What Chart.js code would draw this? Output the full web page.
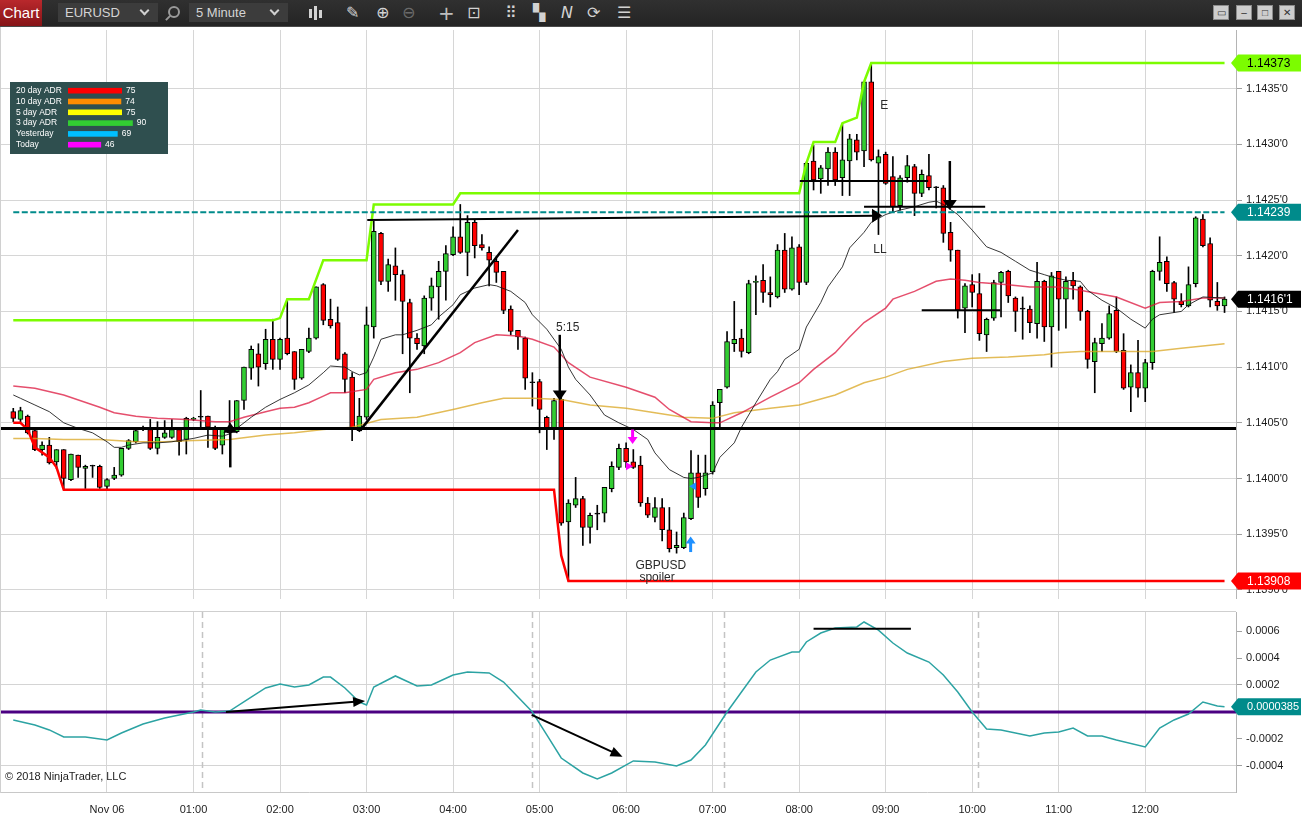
<!DOCTYPE html>
<html>
<head>
<meta charset="utf-8">
<title>EURUSD 5 Minute</title>
<script src="https://cdn.jsdelivr.net/npm/chart.js@4.4.0/dist/chart.umd.min.js"></script>
<style>
  html, body { margin: 0; padding: 0; background: #fff; }
  body { width: 1302px; height: 820px; overflow: hidden; position: relative; font-family: "Liberation Sans", Arial, sans-serif; }
  #toolbar { position: absolute; left: 0; top: 0; width: 1302px; height: 26px; background: linear-gradient(#303030, #242424); border-bottom: 1px solid #4a4a4a; }
  #chartBtn { position: absolute; left: 0; top: 0; width: 42px; height: 26px; background: linear-gradient(#b9282c, #861417); color: #fff; font-size: 15px; line-height: 25px; text-align: center; }
  .field { position: absolute; top: 3px; height: 19px; background: #3c3c3c; color: #d4d4d4; font-size: 13px; line-height: 19px; padding-left: 7px; box-sizing: border-box; }
  .chev { position: absolute; right: 10px; top: 4px; width: 5px; height: 5px; border-right: 2px solid #d0d0d0; border-bottom: 2px solid #d0d0d0; transform: rotate(45deg); }
  .ico { position: absolute; top: 1px; height: 24px; line-height: 24px; color: #d2d2d2; font-family: "DejaVu Sans", sans-serif; font-size: 16px; }
  .mag { position: absolute; top: 6px; width: 8px; height: 8px; border: 2px solid #9a9a9a; border-radius: 50%; }
  .mag::after { content: ""; position: absolute; left: -5px; top: 9px; width: 6px; height: 2px; background: #9a9a9a; transform: rotate(-45deg); }
  .candles { position: absolute; top: 6px; width: 14px; height: 14px; }
  .candles b { position: absolute; width: 3px; background: #d2d2d2; }
  .win { position: absolute; top: 5px; width: 16px; height: 15px; background: #cdcdcd; border: 1px solid #8c8c8c; box-sizing: border-box; color: #333; font-size: 10px; line-height: 13px; text-align: center; }
  #sep { position: absolute; left: 0; top: 611px; width: 1236px; height: 1px; background: #cfcfcf; }
  #leftEdge { position: absolute; left: 0; top: 27px; width: 1px; height: 766px; background: #d0d0d0; z-index: 2; }
  #copyright { position: absolute; left: 5px; top: 770px; font-size: 11px; color: #222; z-index: 2; }
  canvas { position: absolute; left: 0; }
</style>
</head>
<body>
<div id="toolbar">
  <div id="chartBtn">Chart</div>
  <div class="field" style="left:58px;width:100px">EURUSD<i class="chev"></i></div>
  <div class="mag" style="left:168px"></div>
  <div class="field" style="left:189px;width:99px">5 Minute<i class="chev"></i></div>
  <div class="candles" style="left:309px"><b style="left:0;top:3px;height:9px"></b><b style="left:5px;top:0;height:14px"></b><b style="left:10px;top:4px;height:8px"></b></div>
  <div class="ico" style="left:346px">✎</div>
  <div class="ico" style="left:376px">⊕</div>
  <div class="ico" style="left:402px;color:#6a6a6a">⊖</div>
  <div class="ico" style="left:438px;font-size:20px;color:#bdbdbd">+</div>
  <div class="ico" style="left:467px">⊡</div>
  <div class="ico" style="left:505px">⠿</div>
  <div class="ico" style="left:533px">▚</div>
  <div class="ico" style="left:561px;font-style:italic">N</div>
  <div class="ico" style="left:587px">⟳</div>
  <div class="ico" style="left:617px">☰</div>
  <div class="win" style="left:1213px">▭</div>
  <div class="win" style="left:1236px">–</div>
  <div class="win" style="left:1257px">□</div>
  <div class="win" style="left:1279px">✕</div>
</div>

<canvas id="priceChart" width="1302" height="569" style="top:30px;width:1302px;height:569px"></canvas>
<div id="sep"></div>
<div id="leftEdge"></div>
<canvas id="oscChart" width="1302" height="208" style="top:612px;width:1302px;height:208px"></canvas>
<div id="copyright">© 2018 NinjaTrader, LLC</div>

<script>
// EURUSD 5 minute bars, bar index 0 = 00:00 Nov 06 (first bar is 22:55 the day before)
var firstBar = -13;

var open = [
  1.14060,1.14053,1.14056,1.14043,1.14026,1.14030,1.14015,1.14026,1.13999,1.14021,1.14009,1.14011,1.14011,
  1.13993,1.14000,1.14003,1.14027,1.14033,1.14044,1.14044,1.14027,1.14037,1.14037,1.14044,1.14035,
  1.14053,1.14055,1.14056,1.14046,1.14030,1.14043,1.14042,1.14070,1.14099,1.14112,1.14103,1.14125,
  1.14107,1.14126,1.14114,1.14090,1.14114,1.14126,1.14174,1.14143,1.14140,1.14112,1.14091,1.14043,
  1.14055,1.14136,1.14220,1.14177,1.14191,1.14183,1.14158,1.14126,1.14119,1.14162,1.14172,1.14186,
  1.14201,1.14217,1.14203,1.14230,1.14210,1.14203,1.14195,1.14186,1.14152,1.14133,1.14126,1.14086,
  1.14087,1.14055,1.14045,1.14071,1.13961,1.13976,1.13982,1.13956,1.13968,1.13969,1.13991,1.14010,
  1.14027,1.14015,1.14012,1.13978,1.13965,1.13974,1.13954,1.13938,1.13938,1.13964,1.14005,1.13991,
  1.14006,1.14068,1.14082,1.14121,1.14126,1.14113,1.14176,1.14178,1.14167,1.14163,1.14205,1.14170,
  1.14208,1.14176,1.14285,1.14269,1.14278,1.14293,1.14270,1.14285,1.14304,1.14294,1.14356,1.14283,
  1.14291,1.14271,1.14245,1.14270,1.14280,1.14256,1.14272,1.14261,1.14261,1.14221,1.14205,1.14153,
  1.14174,1.14166,1.14129,1.14144,1.14176,1.14186,1.14162,1.14152,1.14152,1.14139,1.14177,1.14136,
  1.14186,1.14161,1.14178,1.14172,1.14150,1.14105,1.14121,1.14126,1.14151,1.14115,1.14082,1.14095,
  1.14081,1.14104,1.14186,1.14195,1.14176,1.14159,1.14155,1.14175,1.14233,1.14211,1.14159,1.14155
];
var high = [
  1.14063,1.14064,1.14057,1.14045,1.14033,1.14037,1.14026,1.14026,1.14022,1.14021,1.14012,1.14012,1.14012,
  1.14000,1.14010,1.14027,1.14035,1.14044,1.14047,1.14053,1.14051,1.14052,1.14053,1.14045,1.14055,
  1.14055,1.14079,1.14056,1.14047,1.14045,1.14070,1.14070,1.14100,1.14119,1.14121,1.14134,1.14143,
  1.14126,1.14161,1.14114,1.14116,1.14135,1.14172,1.14175,1.14161,1.14154,1.14113,1.14095,1.14072,
  1.14154,1.14231,1.14221,1.14197,1.14207,1.14187,1.14161,1.14130,1.14164,1.14180,1.14195,1.14209,
  1.14226,1.14246,1.14236,1.14232,1.14219,1.14208,1.14199,1.14186,1.14155,1.14133,1.14127,1.14095,
  1.14089,1.14056,1.14072,1.14074,1.13981,1.14001,1.13984,1.13969,1.13976,1.13992,1.14015,1.14031,
  1.14032,1.14026,1.14020,1.13983,1.13983,1.13982,1.13974,1.13952,1.13969,1.14025,1.14021,1.14021,
  1.14069,1.14080,1.14132,1.14159,1.14134,1.14178,1.14182,1.14192,1.14181,1.14210,1.14220,1.14217,
  1.14210,1.14284,1.14299,1.14281,1.14297,1.14297,1.14318,1.14309,1.14309,1.14356,1.14373,1.14295,
  1.14293,1.14289,1.14272,1.14290,1.14282,1.14277,1.14291,1.14262,1.14263,1.14230,1.14205,1.14175,
  1.14183,1.14184,1.14144,1.14178,1.14186,1.14187,1.14163,1.14163,1.14155,1.14194,1.14178,1.14185,
  1.14186,1.14181,1.14185,1.14173,1.14151,1.14126,1.14139,1.14155,1.14163,1.14130,1.14102,1.14124,
  1.14107,1.14187,1.14217,1.14199,1.14177,1.14166,1.14190,1.14235,1.14237,1.14216,1.14176,1.14163
];
var low = [
  1.14051,1.14051,1.14040,1.14025,1.14021,1.14013,1.14009,1.13990,1.13998,1.14001,1.13991,1.14001,1.13991,
  1.13991,1.13999,1.14002,1.14026,1.14032,1.14043,1.14026,1.14022,1.14036,1.14036,1.14021,1.14022,
  1.14052,1.14046,1.14028,1.14026,1.14022,1.14040,1.14041,1.14062,1.14089,1.14083,1.14098,1.14098,
  1.14098,1.14111,1.14080,1.14089,1.14113,1.14125,1.14138,1.14135,1.14106,1.14077,1.14034,1.14042,
  1.14053,1.14126,1.14174,1.14168,1.14160,1.14112,1.14077,1.14116,1.14112,1.14151,1.14143,1.14160,
  1.14200,1.14202,1.14182,1.14198,1.14205,1.14173,1.14176,1.14148,1.14129,1.14116,1.14080,1.14065,
  1.14041,1.14026,1.14035,1.13958,1.13908,1.13974,1.13940,1.13942,1.13954,1.13961,1.13988,1.14008,
  1.14010,1.14009,1.13975,1.13965,1.13961,1.13944,1.13934,1.13933,1.13937,1.13963,1.13974,1.13985,
  1.14004,1.14046,1.14081,1.14114,1.14109,1.14112,1.14147,1.14158,1.14154,1.14162,1.14167,1.14169,
  1.14165,1.14174,1.14259,1.14256,1.14263,1.14263,1.14254,1.14254,1.14286,1.14280,1.14285,1.14219,
  1.14264,1.14239,1.14241,1.14266,1.14236,1.14253,1.14259,1.14243,1.14212,1.14195,1.14144,1.14131,
  1.14154,1.14124,1.14114,1.14142,1.14145,1.14158,1.14132,1.14125,1.14131,1.14126,1.14123,1.14100,
  1.14133,1.14135,1.14161,1.14142,1.14099,1.14077,1.14114,1.14125,1.14113,1.14080,1.14060,1.14073,
  1.14069,1.14098,1.14178,1.14168,1.14149,1.14154,1.14154,1.14172,1.14208,1.14154,1.14151,1.14149
];
var close = [
  1.14054,1.14061,1.14041,1.14026,1.14030,1.14014,1.14026,1.14000,1.14022,1.14010,1.14011,1.14011,1.13992,
  1.13999,1.14003,1.14027,1.14034,1.14043,1.14045,1.14027,1.14037,1.14041,1.14044,1.14033,1.14054,
  1.14054,1.14055,1.14046,1.14027,1.14045,1.14041,1.14070,1.14100,1.14116,1.14100,1.14125,1.14107,
  1.14125,1.14112,1.14089,1.14116,1.14126,1.14172,1.14142,1.14137,1.14107,1.14089,1.14045,1.14056,
  1.14138,1.14222,1.14177,1.14192,1.14183,1.14159,1.14126,1.14121,1.14162,1.14173,1.14186,1.14202,
  1.14217,1.14203,1.14230,1.14209,1.14207,1.14196,1.14185,1.14151,1.14132,1.14127,1.14090,1.14086,
  1.14062,1.14045,1.14070,1.13960,1.13978,1.13982,1.13956,1.13967,1.13968,1.13992,1.14011,1.14027,
  1.14015,1.14010,1.13978,1.13967,1.13974,1.13954,1.13937,1.13940,1.13965,1.14005,1.13983,1.14005,
  1.14066,1.14080,1.14123,1.14125,1.14114,1.14175,1.14177,1.14167,1.14165,1.14205,1.14170,1.14207,
  1.14176,1.14283,1.14268,1.14279,1.14293,1.14268,1.14286,1.14305,1.14293,1.14356,1.14286,1.14289,
  1.14265,1.14244,1.14270,1.14281,1.14256,1.14273,1.14261,1.14261,1.14220,1.14205,1.14151,1.14173,
  1.14167,1.14130,1.14143,1.14176,1.14185,1.14164,1.14150,1.14152,1.14140,1.14177,1.14136,1.14182,
  1.14161,1.14177,1.14173,1.14150,1.14107,1.14122,1.14126,1.14148,1.14114,1.14081,1.14095,1.14081,
  1.14104,1.14186,1.14194,1.14175,1.14161,1.14156,1.14174,1.14234,1.14209,1.14160,1.14155,1.14161
];

// moving averages: [bar, price]
var fastMa = [[-13,1.14075],[-12,1.14072],[-10,1.14066],[-8,1.14060],[-6,1.14050],[-4,1.14045],[-2,1.14041],[0,1.14033],[1,1.14028],[2,1.14028],[3,1.14030],[5,1.14032],[7,1.14032],[9,1.14033],[12,1.14036],[14,1.14039],[16,1.14038],[17,1.14040],[18,1.14045],[20,1.14055],[22,1.14064],[24,1.14071],[26,1.14077],[28,1.14084],[30,1.14095],[31,1.14101],[33,1.14100],[34,1.14096],[35,1.14093],[36,1.14095],[37,1.14109],[38,1.14125],[40,1.14129],[41,1.14129],[43,1.14133],[45,1.14138],[46,1.14145],[48,1.14156],[49,1.14165],[51,1.14171],[53,1.14174],[54,1.14173],[56,1.14168],[58,1.14158],[59,1.14147],[61,1.14134],[63,1.14116],[64,1.14100],[65,1.14089],[67,1.14075],[68,1.14066],[69,1.14057],[71,1.14050],[73,1.14044],[75,1.14035],[76,1.14023],[78,1.14008],[80,1.14001],[81,1.14000],[82,1.14001],[84,1.14005],[85,1.14019],[87,1.14032],[88,1.14046],[90,1.14068],[92,1.14089],[93,1.14096],[94,1.14107],[96,1.14116],[97,1.14136],[99,1.14158],[100,1.14172],[102,1.14190],[103,1.14207],[105,1.14221],[106,1.14230],[108,1.14237],[110,1.14241],[112,1.14244],[114,1.14248],[115,1.14249],[116,1.14246],[118,1.14237],[120,1.14223],[122,1.14208],[124,1.14203],[126,1.14195],[128,1.14187],[130,1.14183],[131,1.14181],[133,1.14178],[135,1.14177],[136,1.14169],[138,1.14160],[140,1.14153],[142,1.14143],[144,1.14135],[145,1.14143],[146,1.14147],[149,1.14150],[150,1.14156],[152,1.14163],[155,1.14162]];
var midMa = [[-13,1.14083],[-10,1.14081],[-6,1.14075],[-1,1.14064],[1,1.14059],[4,1.14056],[7,1.14054],[11,1.14053],[15,1.14051],[17,1.14051],[19,1.14055],[22,1.14060],[24,1.14063],[26,1.14064],[28,1.14068],[30,1.14074],[31,1.14077],[33,1.14077],[36,1.14080],[37,1.14089],[40,1.14095],[43,1.14098],[46,1.14104],[49,1.14113],[51,1.14122],[54,1.14129],[57,1.14128],[59,1.14125],[62,1.14118],[64,1.14104],[67,1.14091],[72,1.14082],[76,1.14073],[78,1.14062],[81,1.14051],[84,1.14050],[85,1.14050],[88,1.14059],[92,1.14073],[96,1.14086],[98,1.14098],[101,1.14113],[103,1.14127],[105,1.14140],[108,1.14153],[109,1.14161],[112,1.14168],[115,1.14177],[117,1.14179],[119,1.14178],[121,1.14176],[125,1.14174],[128,1.14172],[132,1.14172],[135,1.14169],[140,1.14163],[144,1.14153],[146,1.14158],[149,1.14159],[152,1.14162],[155,1.14162]];
var slowMa = [[-13,1.14036],[-10,1.14036],[-6,1.14035],[-1,1.14035],[4,1.14033],[8,1.14033],[11,1.14034],[17,1.14035],[22,1.14039],[26,1.14041],[30,1.14044],[34,1.14046],[38,1.14053],[43,1.14055],[48,1.14062],[52,1.14068],[55,1.14072],[59,1.14072],[63,1.14071],[67,1.14066],[72,1.14063],[76,1.14059],[80,1.14055],[84,1.14054],[87,1.14059],[92,1.14063],[96,1.14066],[101,1.14075],[105,1.14086],[108,1.14091],[111,1.14098],[116,1.14105],[120,1.14108],[125,1.14109],[130,1.14111],[132,1.14113],[135,1.14114],[140,1.14114],[145,1.14114],[149,1.14117],[155,1.14121]];

// session high / low lines: [bar, price] corners
var sessionHigh = [[-13,1.14142],[23,1.14142],[24,1.14144],[25,1.14161],[28,1.14161],[30,1.14196],[36,1.14196],[37,1.14246],[48,1.14246],[49,1.14256],[96,1.14256],[97,1.14283],[98,1.14302],[101,1.14302],[102,1.14319],[104,1.14324],[105,1.14356],[106,1.14373],[155,1.14373]];
var sessionLow = [[-13,1.14050],[-12,1.14050],[-11,1.14044],[-10,1.14028],[-8,1.14019],[-7,1.14010],[-6,1.13990],[62,1.13990],[63,1.13931],[64,1.13908],[155,1.13908]];
var yesterdayHigh = 1.14239;
var keyLevel = 1.14045;

// lower panel oscillator: [bar, value]
var oscillator = [[-13,-0.000059],[-10,-0.000096],[-8,-0.000133],[-6,-0.000185],[-3,-0.000185],[0,-0.000207],[2,-0.000156],[5,-0.000089],[8,-0.000044],[12,0],[13,0.000015],[15,0],[17,0.000007],[20,0.000111],[22,0.000178],[24,0.000207],[26,0.000185],[28,0.000200],[30,0.000259],[31,0.000259],[33,0.000178],[35,0.000074],[36,0.000052],[37,0.000185],[40,0.000267],[43,0.000193],[45,0.000200],[48,0.000274],[50,0.000296],[53,0.000289],[55,0.000222],[57,0.000111],[59,0],[61,-0.000170],[63,-0.000341],[66,-0.000452],[68,-0.000496],[70,-0.000452],[73,-0.000363],[76,-0.000370],[79,-0.000400],[81,-0.000356],[83,-0.000244],[86,0],[88,0.000148],[90,0.000296],[92,0.000385],[95,0.000444],[96,0.000444],[97,0.000519],[99,0.000585],[101,0.000622],[104,0.000630],[105,0.000667],[107,0.000607],[109,0.000511],[111,0.000437],[114,0.000370],[116,0.000274],[118,0.000148],[120,0],[122,-0.000126],[124,-0.000133],[128,-0.000178],[130,-0.000156],[132,-0.000148],[134,-0.000119],[136,-0.000178],[138,-0.000178],[140,-0.000207],[144,-0.000259],[146,-0.000119],[148,-0.000059],[150,-0.000015],[152,0.000074],[154,0.000044],[155,0.0000385]];
var zeroCrossBars = [13.2, 58.9, 85.6, 120.8];

// axes
var hourTicks = [0,12,24,36,48,60,72,84,96,108,120,132,144];
var hourLabels = ['Nov 06','01:00','02:00','03:00','04:00','05:00','06:00','07:00','08:00','09:00','10:00','11:00','12:00'];
var priceTicks = [1.1390,1.1395,1.1400,1.1405,1.1410,1.1415,1.1420,1.1425,1.1430,1.1435];
var oscTicks = [-0.0004,-0.0002,0,0.0002,0.0004,0.0006];
var oscGridLevels = [0.0002,-0.0004];

// ADR box
var adrNames = ['20 day ADR','10 day ADR','5 day ADR','3 day ADR','Yesterday','Today'];
var adrValues = [75,74,75,90,69,46];
var adrColors = ['#ff0000','#ff8c00','#ffff00','#32cd32','#00bfff','#ff00ff'];

// hand drawn objects: [bar1, price1, bar2, price2, arrow at end, line width]
var priceDrawings = [
  [36.1,1.14232,107.5,1.14236,true,2],
  [35.1,1.14043,57.0,1.14223,false,2.5],
  [96.1,1.14267,113.9,1.14267,false,2],
  [105.0,1.14244,121.8,1.14244,false,2],
  [113.0,1.14151,123.9,1.14151,false,2],
  [17.1,1.14010,17.1,1.14050,true,2.5],
  [62.8,1.14129,62.8,1.14070,true,2.5],
  [116.9,1.14285,116.9,1.14241,true,2.5]
];
var priceNotes = [['E',107.8,1.14335],['LL',107.2,1.14205],['5:15',63.9,1.14135],['GBPUSD',76.8,1.13922],['spoiler',76.3,1.13911]];
var tradeArrows = [[72.9,1.14044,1.14031,'#ff00ff'],[80.95,1.13934,1.13948,'#1e90ff']];
var tradeMarks = [[72.4,1.14011,'#ff00ff',1],[81.3,1.13993,'#1e90ff',-1]];
var oscDrawings = [
  [16.5,0,35.8,0.0000815,true,2],
  [58.9,-0.000022,71.5,-0.000331,true,2],
  [98.0,0.000617,111.5,0.000617,false,2]
];

// view ranges
var xMin = -14.84, xMax = 156.59;
var yMin = 1.1389185, yMax = 1.1440262;
var oMin = -0.000593, oMax = 0.000741;

var FONT = '"Liberation Sans", Arial, sans-serif';
Chart.defaults.font.family = FONT;
Chart.defaults.animation = false;

var bars = open.map(function (v, k) { return firstBar + k; });
var pts = function (a) { return a.map(function (p) { return {x: p[0], y: p[1]}; }); };
var fmtPrice = function (v) { var s = Number(v).toFixed(5); return s.slice(0, 6) + "'" + s.slice(6); };
var last = function (a) { return a[a.length - 1]; };
var isHour = function (v) { return hourTicks.indexOf(v) >= 0; };
var hourGrid = function (c) { return (c.tick && isHour(c.tick.value)) ? '#d6d6d6' : 'rgba(0,0,0,0)'; };

function segment(ctx, x1, y1, x2, y2, w, headLen, headHalf) {
  var a = Math.atan2(y2 - y1, x2 - x1);
  var ex = x2 - (headLen ? headLen * 0.6 * Math.cos(a) : 0);
  var ey = y2 - (headLen ? headLen * 0.6 * Math.sin(a) : 0);
  ctx.lineWidth = w;
  ctx.beginPath(); ctx.moveTo(x1, y1); ctx.lineTo(ex, ey); ctx.stroke();
  if (headLen) {
    ctx.beginPath();
    ctx.moveTo(x2, y2);
    ctx.lineTo(x2 - headLen * Math.cos(a) + headHalf * Math.sin(a), y2 - headLen * Math.sin(a) - headHalf * Math.cos(a));
    ctx.lineTo(x2 - headLen * Math.cos(a) - headHalf * Math.sin(a), y2 - headLen * Math.sin(a) + headHalf * Math.cos(a));
    ctx.closePath(); ctx.fill();
  }
}

function drawFlag(ctx, xTip, y, text, bg, fg, size) {
  var h = 17, x0 = xTip + 7, x1 = 1301;
  ctx.fillStyle = bg;
  ctx.beginPath();
  ctx.moveTo(xTip, y); ctx.lineTo(x0, y - h / 2); ctx.lineTo(x1, y - h / 2);
  ctx.lineTo(x1, y + h / 2); ctx.lineTo(x0, y + h / 2); ctx.closePath(); ctx.fill();
  ctx.fillStyle = fg;
  ctx.font = size + 'px ' + FONT;
  ctx.textAlign = 'left'; ctx.textBaseline = 'middle';
  ctx.fillText(text, xTip + 16, y + 0.5);
}

// drawings, notes and the ADR box on the price panel
var priceOverlay = {
  id: 'priceOverlay',
  afterDatasetsDraw: function (chart) {
    var ctx = chart.ctx, a = chart.chartArea, x = chart.scales.x, y = chart.scales.y;
    ctx.save();
    ctx.beginPath(); ctx.rect(a.left, a.top, a.right - a.left, a.bottom - a.top); ctx.clip();
    ctx.strokeStyle = '#000'; ctx.fillStyle = '#000';
    priceDrawings.forEach(function (d) {
      segment(ctx, x.getPixelForValue(d[0]), y.getPixelForValue(d[1]),
        x.getPixelForValue(d[2]), y.getPixelForValue(d[3]), d[5], d[4] ? 10 : 0, 7);
    });
    tradeArrows.forEach(function (t) {
      ctx.strokeStyle = t[3]; ctx.fillStyle = t[3];
      var px = x.getPixelForValue(t[0]);
      segment(ctx, px, y.getPixelForValue(t[1]), px, y.getPixelForValue(t[2]), 3, 7, 5);
    });
    tradeMarks.forEach(function (m) {
      var px = x.getPixelForValue(m[0]), py = y.getPixelForValue(m[1]);
      ctx.fillStyle = m[2];
      ctx.beginPath();
      ctx.moveTo(px + 4 * m[3], py); ctx.lineTo(px - 3 * m[3], py - 4); ctx.lineTo(px - 3 * m[3], py + 4);
      ctx.closePath(); ctx.fill();
    });
    ctx.fillStyle = '#2a2a2a';
    ctx.font = '12px ' + FONT;
    ctx.textAlign = 'center'; ctx.textBaseline = 'middle';
    priceNotes.forEach(function (n) {
      ctx.fillText(n[0], x.getPixelForValue(n[1]), y.getPixelForValue(n[2]));
    });
    ctx.restore();

    // ADR box
    ctx.save();
    ctx.fillStyle = '#2f4f4f';
    ctx.fillRect(10, 52, 158, 72);
    ctx.font = '8.5px ' + FONT;
    ctx.textAlign = 'left'; ctx.textBaseline = 'middle';
    adrNames.forEach(function (name, k) {
      var ry = 60.7 + k * 10.8;
      ctx.fillStyle = '#fff';
      ctx.fillText(name, 16, ry);
      ctx.fillStyle = adrColors[k];
      ctx.fillRect(68, ry - 2.8, adrValues[k] * 0.72, 5.6);
      ctx.fillStyle = '#fff';
      ctx.fillText(String(adrValues[k]), 72 + adrValues[k] * 0.72, ry);
    });
    ctx.restore();
  },
  afterDraw: function (chart) {
    var ctx = chart.ctx, y = chart.scales.y, xt = chart.chartArea.right - 5;
    ctx.save();
    drawFlag(ctx, xt, y.getPixelForValue(last(sessionHigh)[1]), last(sessionHigh)[1].toFixed(5), '#7cfc00', '#000', 12);
    drawFlag(ctx, xt, y.getPixelForValue(yesterdayHigh), yesterdayHigh.toFixed(5), '#008b8b', '#fff', 12);
    drawFlag(ctx, xt, y.getPixelForValue(last(close)), fmtPrice(last(close)), '#000', '#fff', 12);
    drawFlag(ctx, xt, y.getPixelForValue(last(sessionLow)[1]), last(sessionLow)[1].toFixed(5), '#ff0000', '#fff', 12);
    ctx.restore();
  }
};

var oscOverlay = {
  id: 'oscOverlay',
  beforeDatasetsDraw: function (chart) {
    var ctx = chart.ctx, a = chart.chartArea, x = chart.scales.x;
    ctx.save();
    ctx.strokeStyle = '#c4c4c4'; ctx.lineWidth = 1.5; ctx.setLineDash([6, 4]);
    zeroCrossBars.forEach(function (b) {
      var px = Math.round(x.getPixelForValue(b)) + 0.5;
      ctx.beginPath(); ctx.moveTo(px, a.top); ctx.lineTo(px, a.bottom); ctx.stroke();
    });
    ctx.restore();
  },
  afterDatasetsDraw: function (chart) {
    var ctx = chart.ctx, x = chart.scales.x, y = chart.scales.y;
    ctx.save();
    ctx.strokeStyle = '#000'; ctx.fillStyle = '#000';
    oscDrawings.forEach(function (d) {
      segment(ctx, x.getPixelForValue(d[0]), y.getPixelForValue(d[1]),
        x.getPixelForValue(d[2]), y.getPixelForValue(d[3]), d[5], d[4] ? 12 : 0, 5);
    });
    ctx.restore();
  },
  afterDraw: function (chart) {
    var ctx = chart.ctx, y = chart.scales.y, v = last(oscillator)[1];
    ctx.save();
    drawFlag(ctx, chart.chartArea.right - 5, y.getPixelForValue(v), v.toFixed(7), '#008b8b', '#fff', 11);
    ctx.restore();
  }
};

var noPad = function (s) { s.paddingLeft = 0; s.paddingRight = 0; s.paddingTop = 0; s.paddingBottom = 0; };

new Chart(document.getElementById('priceChart'), {
  type: 'line',
  data: {
    datasets: [
      {type: 'bar', label: 'wick', data: bars.map(function (b, k) { return {x: b, y: [low[k], high[k]]}; }),
        backgroundColor: '#000', barThickness: 1, grouped: false, order: 20},
      {type: 'bar', label: 'body', data: bars.map(function (b, k) { return {x: b, y: [open[k], close[k]]}; }),
        backgroundColor: bars.map(function (b, k) { return close[k] > open[k] ? '#32cd32' : (close[k] < open[k] ? '#ff0000' : '#000'); }),
        borderColor: '#000', borderWidth: 1, borderSkipped: false, barThickness: 5, minBarLength: 1, grouped: false, order: 19},
      {label: 'slow', data: pts(slowMa), borderColor: 'rgba(218,165,32,0.75)', borderWidth: 1.5, pointRadius: 0, order: 9},
      {label: 'mid', data: pts(midMa), borderColor: 'rgba(220,20,60,0.75)', borderWidth: 1.5, pointRadius: 0, order: 8},
      {label: 'fast', data: pts(fastMa), borderColor: 'rgba(20,20,20,0.85)', borderWidth: 1, pointRadius: 0, order: 7},
      {label: 'high', data: pts(sessionHigh), borderColor: '#7cfc00', borderWidth: 2.5, pointRadius: 0, order: 5},
      {label: 'low', data: pts(sessionLow), borderColor: '#ff0000', borderWidth: 2.5, pointRadius: 0, order: 5},
      {label: 'yesterday', data: [{x: firstBar, y: yesterdayHigh}, {x: last(bars), y: yesterdayHigh}],
        borderColor: '#008b8b', borderWidth: 2, borderDash: [6, 2.5], pointRadius: 0, order: 4},
      {label: 'level', data: [{x: xMin, y: keyLevel}, {x: xMax, y: keyLevel}],
        borderColor: '#000', borderWidth: 3, pointRadius: 0, order: 3}
    ]
  },
  options: {
    responsive: false,
    maintainAspectRatio: false,
    layout: {padding: 0},
    plugins: {legend: {display: false}, tooltip: {enabled: false}},
    elements: {line: {tension: 0, fill: false}},
    scales: {
      x: {
        type: 'linear', min: xMin, max: xMax, offset: false,
        afterBuildTicks: function (s) { s.ticks = hourTicks.map(function (v) { return {value: v}; }); },
        afterFit: function (s) { s.height = 0; noPad(s); },
        ticks: {display: false},
        grid: {color: hourGrid, drawTicks: false, offset: false},
        border: {display: false}
      },
      y: {
        type: 'linear', position: 'right', min: yMin, max: yMax, beginAtZero: false,
        afterBuildTicks: function (s) { s.ticks = priceTicks.map(function (v) { return {value: v}; }); },
        afterFit: function (s) { s.width = 66; noPad(s); },
        ticks: {callback: function (v) { return fmtPrice(v); }, color: '#1a1a1a', font: {size: 11}, padding: 4},
        grid: {color: '#d6d6d6', tickLength: 6, tickColor: '#a0a0a0'},
        border: {color: '#b4b4b4'}
      }
    }
  },
  plugins: [priceOverlay]
});

new Chart(document.getElementById('oscChart'), {
  type: 'line',
  data: {
    datasets: [
      {label: 'zero', data: [{x: xMin, y: 0}, {x: xMax, y: 0}], borderColor: '#4b0082', borderWidth: 3, pointRadius: 0, order: 2},
      {label: 'osc', data: pts(oscillator), borderColor: '#2ca3a3', borderWidth: 1.5, pointRadius: 0, order: 1}
    ]
  },
  options: {
    responsive: false,
    maintainAspectRatio: false,
    layout: {padding: 0},
    plugins: {legend: {display: false}, tooltip: {enabled: false}},
    elements: {line: {tension: 0, fill: false}},
    scales: {
      x: {
        type: 'linear', min: xMin, max: xMax, offset: false,
        afterBuildTicks: function (s) { s.ticks = hourTicks.map(function (v) { return {value: v}; }); },
        afterFit: function (s) { s.height = 28; noPad(s); },
        ticks: {callback: function (v) { return isHour(v) ? hourLabels[hourTicks.indexOf(v)] : ''; }, autoSkip: false, maxRotation: 0,
          color: '#222', font: {size: 11}, padding: 11},
        grid: {color: hourGrid, drawTicks: false, offset: false},
        border: {color: '#c8c8c8'}
      },
      y: {
        type: 'linear', position: 'right', min: oMin, max: oMax, beginAtZero: false,
        afterBuildTicks: function (s) { s.ticks = oscTicks.map(function (v) { return {value: v}; }); },
        afterFit: function (s) { s.width = 66; noPad(s); },
        ticks: {callback: function (v) { return v === 0 ? '' : v.toFixed(4); }, color: '#1a1a1a', font: {size: 11}, padding: 4},
        grid: {
          color: function (c) { return (c.tick && oscGridLevels.indexOf(c.tick.value) >= 0) ? '#d4d4d4' : 'rgba(0,0,0,0)'; },
          tickLength: 6, tickColor: '#a0a0a0'
        },
        border: {color: '#b4b4b4'}
      }
    }
  },
  plugins: [oscOverlay]
});
</script>
</body>
</html>
